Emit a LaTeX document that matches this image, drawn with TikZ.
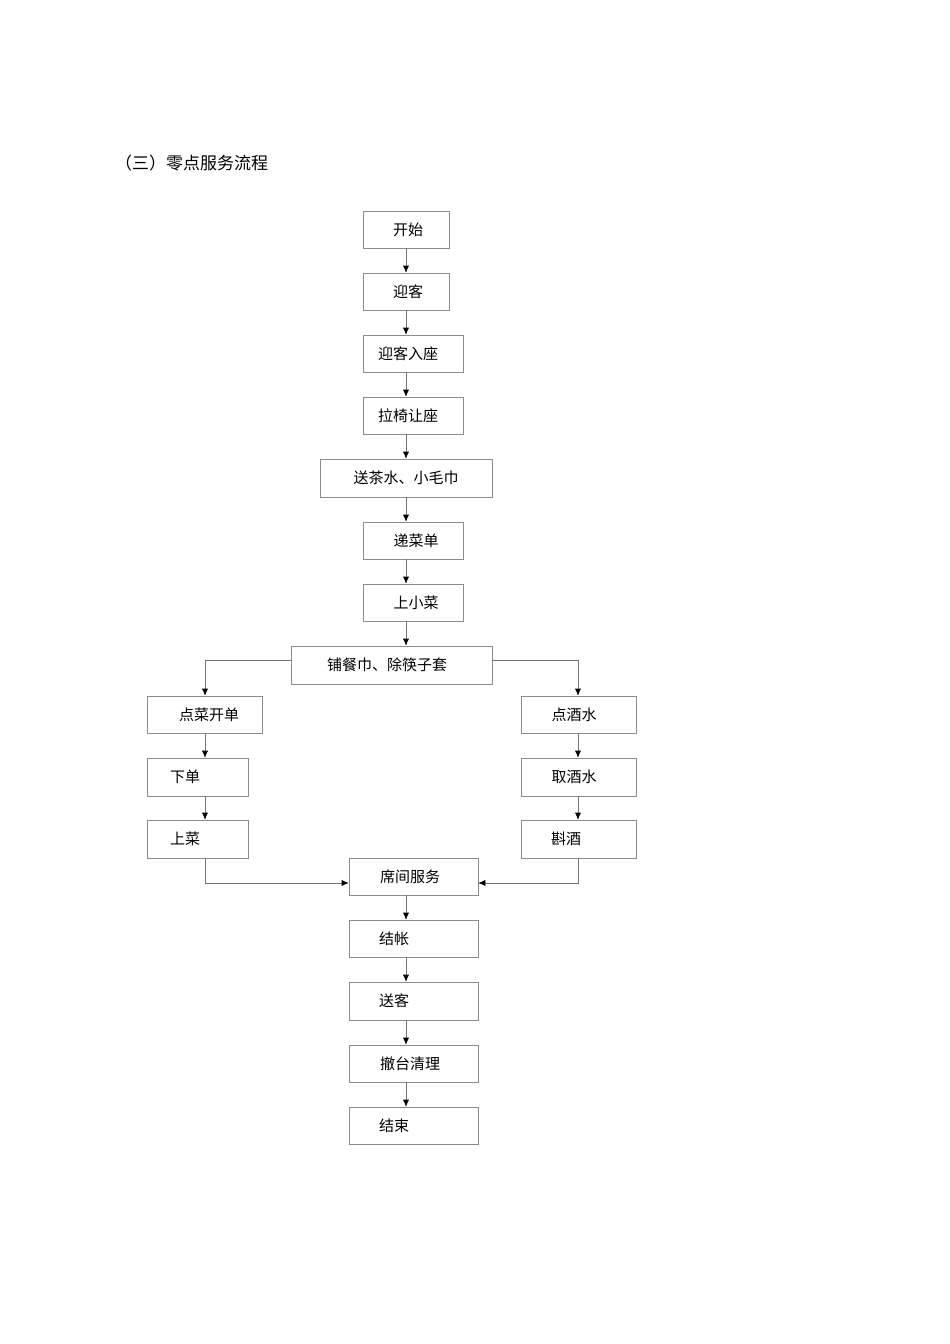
\documentclass[tikz,border=0pt]{standalone}
\usepackage{fontspec}
\newfontfamily\cjk{Noto Sans CJK SC}
\usetikzlibrary{arrows.meta}
\tikzset{boxst/.style={draw=black!45,line width=0.6pt,inner sep=0pt},
 lbl/.style={font=\cjk\fontsize{15}{15}\selectfont,inner sep=0pt},
 arr/.style={draw=black!55,line width=0.6pt,-{Latex[length=7pt,width=6pt,black]}}}
\newcommand\bx[7]{\node[boxst,minimum width={#4-#2},minimum height={#5-#3}] (#1) at ({(#2+#4)/2},{-(#3+#5)/2}) {};
 \node[lbl] (#1t) at (#6,{-(#3+#5)/2}) {#7};}
\begin{document}
\begin{tikzpicture}[x=1pt,y=1pt]
\useasboundingbox (0,0) rectangle (950,-1344);
\node[lbl,anchor=west,font=\cjk\fontsize{17}{17}\selectfont] (title) at (115,-163) {（三）零点服务流程};
\bx{a}{363}{211}{449}{248}{408}{开始}
\bx{b}{363}{273}{449}{310}{408}{迎客}
\bx{c}{363}{335}{463}{372}{408}{迎客入座}
\bx{d}{363}{397}{463}{434}{408}{拉椅让座}
\bx{e}{320}{459}{492}{497}{406}{送茶水、小毛巾}
\bx{f}{363}{522}{463}{559}{416}{递菜单}
\bx{g}{363}{584}{463}{621}{416}{上小菜}
\bx{h}{291}{646}{492}{684}{387}{铺餐巾、除筷子套}
\bx{l1}{147}{696}{262}{733}{209}{点菜开单}
\bx{l2}{147}{758}{248}{796}{185}{下单}
\bx{l3}{147}{820}{248}{858}{185}{上菜}
\bx{r1}{521}{696}{636}{733}{574}{点酒水}
\bx{r2}{521}{758}{636}{796}{574}{取酒水}
\bx{r3}{521}{820}{636}{858}{566}{斟酒}
\bx{i}{349}{858}{478}{895}{410}{席间服务}
\bx{j}{349}{920}{478}{957}{394}{结帐}
\bx{k}{349}{982}{478}{1020}{394}{送客}
\bx{m}{349}{1045}{478}{1082}{410}{撤台清理}
\bx{n}{349}{1107}{478}{1144}{394}{结束}
\foreach \p/\q in {a/b,b/c,c/d,d/e,e/f,f/g,g/h}{\draw[arr] (\p.south -| 406,0) -- (\q.north -| 406,0);}
\foreach \p/\q in {i/j,j/k,k/m,m/n}{\draw[arr] (\p.south -| 406,0) -- (\q.north -| 406,0);}
\foreach \p/\q in {l1/l2,l2/l3}{\draw[arr] (\p.south -| 205,0) -- (\q.north -| 205,0);}
\foreach \p/\q in {r1/r2,r2/r3}{\draw[arr] (\p.south -| 578,0) -- (\q.north -| 578,0);}
\draw[arr] (h.west |- 0,-660) -| (l1.north -| 205,0);
\draw[arr] (h.east |- 0,-660) -| (r1.north -| 578,0);
\draw[arr] (l3.south -| 205,0) |- (i.west |- 0,-883);
\draw[arr] (r3.south -| 578,0) |- (i.east |- 0,-883);
\end{tikzpicture}
\end{document}
